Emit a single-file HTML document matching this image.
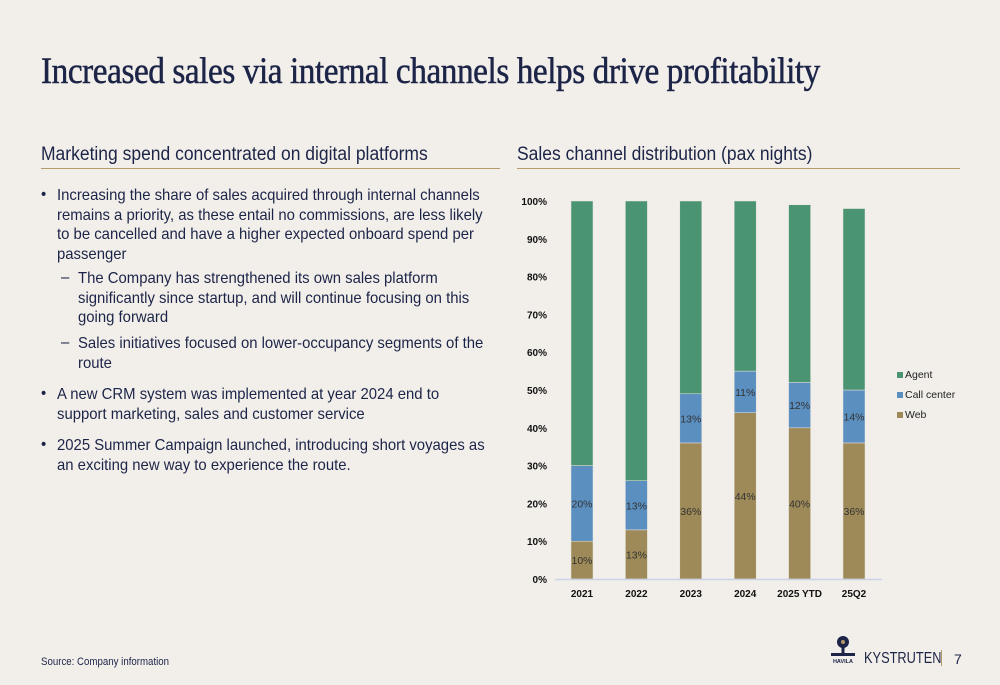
<!DOCTYPE html>
<html><head><meta charset="utf-8">
<style>
body{margin:0;width:1000px;height:685px;background:#f2efeb;font-family:"Liberation Sans",sans-serif;position:relative;overflow:hidden;color:#1c2447}
.abs{position:absolute}
h1{position:absolute;left:41px;top:50px;margin:0;font-family:"Liberation Serif",serif;font-weight:normal;font-size:37px;letter-spacing:-0.5px;color:#1c2447;transform:scaleX(0.9);transform-origin:left;white-space:nowrap;-webkit-text-stroke:0.5px #1c2447}
.sub{position:absolute;top:144px;font-size:19px;color:#1c2447;transform:scaleX(0.92);transform-origin:left;white-space:nowrap}
.rule{position:absolute;top:168px;height:1px;background:#b59a6a}
.ln{position:absolute;font-size:16px;color:#1c2447;white-space:nowrap;transform:scaleX(0.93);transform-origin:left}
</style></head><body>
<h1>Increased sales via internal channels helps drive profitability</h1>
<div class="sub" style="left:41px">Marketing spend concentrated on digital platforms</div>
<div class="rule" style="left:41px;width:459px"></div>
<div class="sub" style="left:517px">Sales channel distribution (pax nights)</div>
<div class="rule" style="left:517px;width:443px"></div>
<div>
<div class="ln" style="left:41px;top:186px">•</div>
<div class="ln" style="left:57px;top:186px;line-height:19.5px">Increasing the share of sales acquired through internal channels<br>remains a priority, as these entail no commissions, are less likely<br>to be cancelled and have a higher expected onboard spend per<br>passenger</div>
<div class="ln" style="left:61px;top:269px">–</div>
<div class="ln" style="left:78px;top:269px;line-height:19.5px">The Company has strengthened its own sales platform<br>significantly since startup, and will continue focusing on this<br>going forward</div>
<div class="ln" style="left:61px;top:334px">–</div>
<div class="ln" style="left:78px;top:334px;line-height:19.5px">Sales initiatives focused on lower-occupancy segments of the<br>route</div>
<div class="ln" style="left:41px;top:385px">•</div>
<div class="ln" style="left:57px;top:385px;line-height:19.5px">A new CRM system was implemented at year 2024 end to<br>support marketing, sales and customer service</div>
<div class="ln" style="left:41px;top:436px">•</div>
<div class="ln" style="left:57px;top:436px;line-height:19.5px">2025 Summer Campaign launched, introducing short voyages as<br>an exciting new way to experience the route.</div>
</div>
<svg class="abs" style="left:0;top:0" width="1000" height="685" id="chart"></svg>
<div class="abs" style="left:41px;top:656px;font-size:11px;color:#1c2447;transform:scaleX(0.88);transform-origin:left;white-space:nowrap">Source: Company information</div>
<svg class="abs" style="left:828px;top:634px" width="30" height="30">
<circle cx="15" cy="8" r="6" fill="#1c2447"/><circle cx="15" cy="8" r="2" fill="#b59a6a"/>
<rect x="13.5" y="13" width="3" height="7" fill="#1c2447"/><rect x="3" y="19" width="24" height="3" fill="#1c2447"/>
<text x="15" y="29" font-size="5.5" font-weight="bold" text-anchor="middle" fill="#1c2447" font-family="Liberation Sans">HAVILA</text></svg>
<div class="abs" style="left:864px;top:650px;font-size:16px;color:#1c2447;transform:scaleX(0.8);transform-origin:left;white-space:nowrap">KYSTRUTEN</div>
<div class="abs" style="left:941px;top:650px;width:1px;height:16px;background:#b59a6a"></div>
<div class="abs" style="left:954px;top:651px;font-size:14px;color:#1c2447">7</div>
<script>
const categories=["2021","2022","2023","2024","2025 YTD","25Q2"];
const web=[10,13,36,44,40,36];
const callCenter=[20,13,13,11,12,14];
const agent=[70,74,51,45,47,48];
const yTicks=[0,10,20,30,40,50,60,70,80,90,100];
const svg=document.getElementById('chart');const NS="http://www.w3.org/2000/svg";
const y=v=>579-v*3.78;const x=i=>582+i*54.4;
function el(t,a,p){const e=document.createElementNS(NS,t);for(const k in a)e.setAttribute(k,a[k]);(p||svg).appendChild(e);return e;}
yTicks.forEach(t=>{const e=el('text',{x:547,y:y(t)+4,'text-anchor':'end','font-size':10,'font-weight':'bold',fill:'#111'});e.textContent=t+'%';

});
const series=[[web,'#9e8a58','web'],[callCenter,'#5b8fc0','call-center'],[agent,'#4a9472','agent']];
categories.forEach((c,i)=>{let base=0;
series.forEach(([arr,col,nm],si)=>{const v=arr[i];const r=el('rect',{x:x(i)-11,y:y(base+v),width:22,height:v*3.78,fill:col,stroke:'#e8e4de','stroke-width':0.5});


if(si<2){const t=el('text',{x:x(i),y:y(base+v/2)+4,'text-anchor':'middle','font-size':10.5,fill:'#333'});t.textContent=v+'%';

}
base+=v;});
const l=el('text',{x:x(i),y:597,'text-anchor':'middle','font-size':10,'font-weight':'bold',fill:'#111'});l.textContent=c;

});
const ax=el('line',{x1:555,x2:882,y1:579.5,y2:579.5,stroke:'#c8d4e6','stroke-width':1.5});


[['Agent','#4a9472',377],['Call center','#5b8fc0',397],['Web','#9e8a58',417]].forEach(([n,c,yy])=>{
const r=el('rect',{x:897,y:yy-5,width:6,height:6,fill:c});


const t=el('text',{x:905,y:yy+1,'font-size':10.5,fill:'#222'});t.textContent=n;

});
</script>
</body></html>
